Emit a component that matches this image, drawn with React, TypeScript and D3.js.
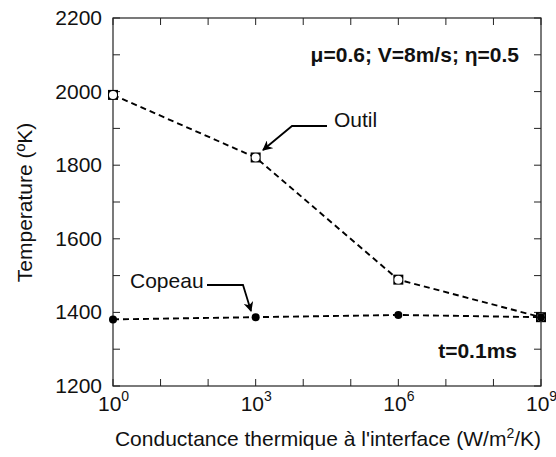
import React from "react";
import * as d3 from "d3";

const conductance = [1, 1e3, 1e6, 1e9];
const outil = [1991, 1821, 1489, 1387];
const copeau = [1381, 1387, 1393, 1387];
const yTicks = [1200, 1400, 1600, 1800, 2000, 2200];
const xMajorExp = [0, 3, 6, 9];
const xMinorExp = [0, 1, 2, 3, 4, 5, 6, 7, 8, 9];
const yMinor = [1200, 1300, 1400, 1500, 1600, 1700, 1800, 1900, 2000, 2100, 2200];

const W = 556, H = 457;
const L = 113, R = 541, T = 18, B = 386;
const FONT = "'Liberation Sans', Arial, Helvetica, sans-serif";

export default function App() {
  const x = d3.scaleLog().domain([1, 1e9]).range([L, R]);
  const y = d3.scaleLinear().domain([1200, 2200]).range([B, T]);
  const line = d3.line<number>().x((_, i) => x(conductance[i])).y(d => y(d));
  const tl = 7;
  const fs = 21;
  return (
    <svg width={W} height={H} style={{ position: "absolute", left: 0, top: 0 }} fontFamily={FONT}>
      <defs>
        <marker id="ah" viewBox="0 0 10 10" refX="9" refY="5" markerWidth="10" markerHeight="10" orient="auto" markerUnits="userSpaceOnUse">
          <path d="M0,0 L10,5 L0,10 L3,5 Z" fill="#000" />
        </marker>
      </defs>
      <rect x={0} y={0} width={W} height={H} fill="#fff" />
      <rect x={L} y={T} width={R - L} height={B - T} fill="none" stroke="#222" strokeWidth={1.2} />
      {xMinorExp.map(e => {
        const xx = x(Math.pow(10, e));
        return (
          <g key={"xt" + e} stroke="#222" strokeWidth={1}>
            <line x1={xx} x2={xx} y1={B} y2={B - tl} />
            <line x1={xx} x2={xx} y1={T} y2={T + tl} />
          </g>
        );
      })}
      {yMinor.map(v => (
        <g key={"yt" + v} stroke="#222" strokeWidth={1}>
          <line x1={L} x2={L + tl} y1={y(v)} y2={y(v)} />
          <line x1={R} x2={R - tl} y1={y(v)} y2={y(v)} />
        </g>
      ))}
      {yTicks.map(v => (
        <text key={"yl" + v} x={102} y={y(v) + 7} textAnchor="end" fontSize={fs} fill="#111">{v}</text>
      ))}
      {xMajorExp.map(e => (
        <text key={"xl" + e} x={x(Math.pow(10, e)) - 15} y={411} textAnchor="start" fontSize={fs} fill="#111">
          10<tspan dy={-10} fontSize={14}>{e}</tspan>
        </text>
      ))}
      <text x={(L + R) / 2 + 1} y={446} textAnchor="middle" fontSize={fs} fill="#111">
        Conductance thermique à l'interface (W/m<tspan dy={-8} fontSize={14}>2</tspan><tspan dy={8}>/K)</tspan>
      </text>
      <text transform={`translate(32,${(122 + 283) / 2}) rotate(-90)`} textAnchor="middle" fontSize={fs} fill="#111">
        Temperature (ºK)
      </text>
      <path d={line(outil) || ""} fill="none" stroke="#000" strokeWidth={1.9} strokeDasharray="6,4" />
      <path d={line(copeau) || ""} fill="none" stroke="#000" strokeWidth={1.9} strokeDasharray="6,4" />
      {outil.map((v, i) => (
        <g key={"om" + i}>
          <rect x={x(conductance[i]) - 5} y={y(v) - 5} width={10} height={10} fill="#000" />
          <circle cx={x(conductance[i])} cy={y(v)} r={4} fill="#fff" />
        </g>
      ))}
      {copeau.map((v, i) => (
        <circle key={"cm" + i} cx={x(conductance[i])} cy={y(v)} r={4} fill="#000" />
      ))}
      <text x={519} y={62} textAnchor="end" fontSize={fs} fontWeight="bold" fill="#111">μ=0.6; V=8m/s; η=0.5</text>
      <text x={517} y={358} textAnchor="end" fontSize={fs} fontWeight="bold" fill="#111">t=0.1ms</text>
      <text x={334} y={127} fontSize={fs} fill="#111">Outil</text>
      <text x={130} y={288} fontSize={fs} fill="#111">Copeau</text>
      <polyline points="327,126 292,126 263,150" fill="none" stroke="#000" strokeWidth={1.8} markerEnd="url(#ah)" />
      <polyline points="207,285 243,285 251,311" fill="none" stroke="#000" strokeWidth={1.8} markerEnd="url(#ah)" />
    </svg>
  );
}
